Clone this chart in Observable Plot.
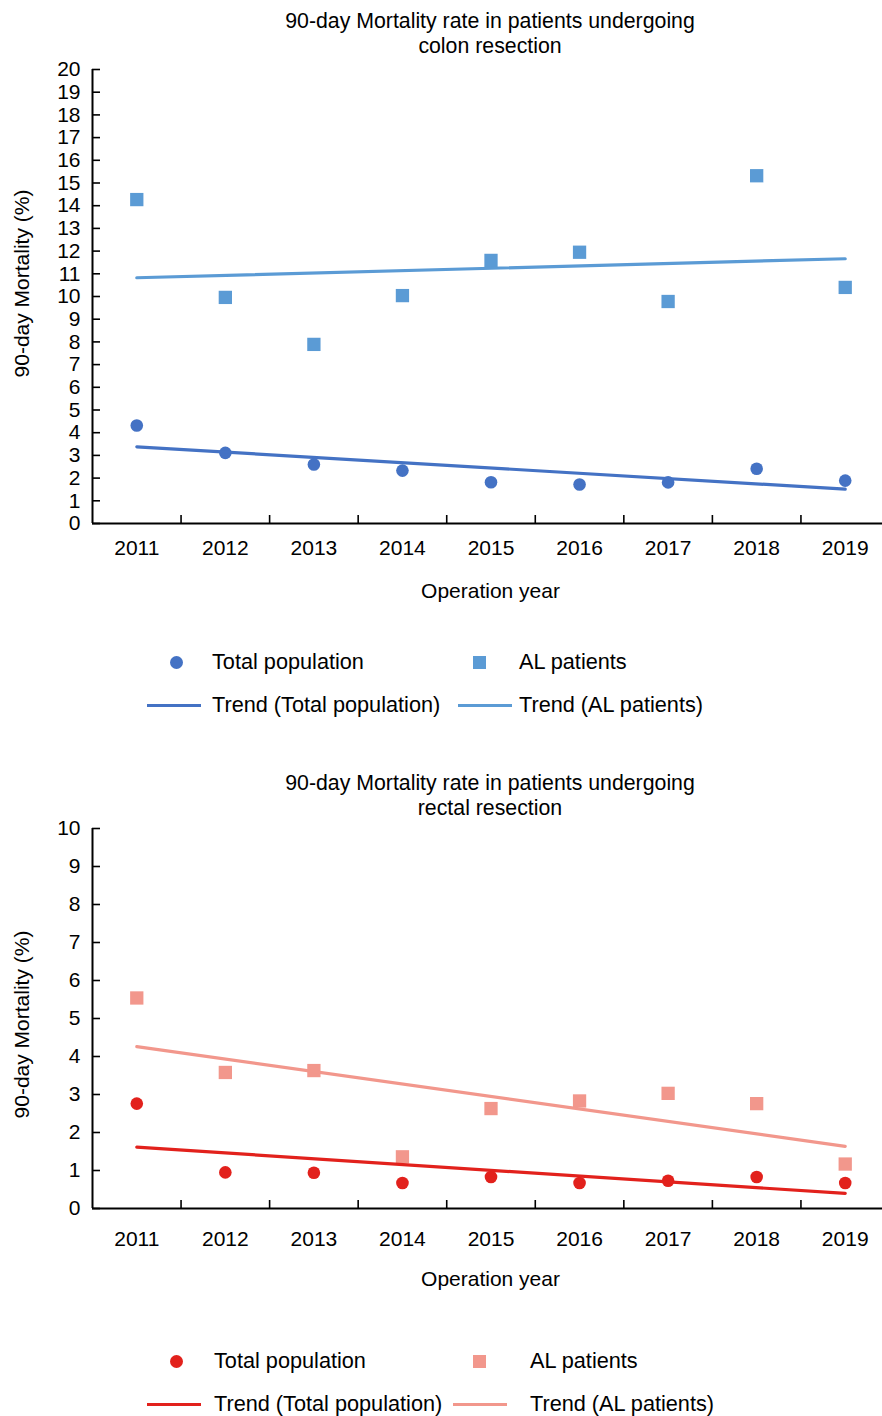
<!DOCTYPE html>
<html>
<head>
<meta charset="utf-8">
<script src="https://cdn.jsdelivr.net/npm/d3@7"></script>
<script src="https://cdn.jsdelivr.net/npm/@observablehq/plot@0.6"></script>
<style>
  body { margin: 0; background: #fff; font-family: "Liberation Sans", Arial, Helvetica, sans-serif; color: #000; }
  #page { position: relative; width: 882px; height: 1416px; overflow: hidden; background: #fff; }
  .title { position: absolute; left: 140px; width: 700px; text-align: center; font-size: 21.3px; line-height: 25px; }
  .chart { position: absolute; left: 0; }
  .lg { position: absolute; font-size: 21.7px; line-height: 24px; white-space: nowrap; }
  .sw { position: absolute; }
</style>
</head>
<body>
<div id="page"></div>
<script>
// ---------- data ----------
const years = [2011, 2012, 2013, 2014, 2015, 2016, 2017, 2018, 2019];

const colonTotal = [4.32, 3.11, 2.60, 2.33, 1.82, 1.72, 1.81, 2.41, 1.89];
const colonAL    = [14.27, 9.96, 7.89, 10.04, 11.59, 11.95, 9.78, 15.32, 10.40];

const rectalTotal = [2.76, 0.95, 0.94, 0.67, 0.83, 0.67, 0.73, 0.83, 0.67];
const rectalAL    = [5.54, 3.58, 3.63, 1.36, 2.63, 2.83, 3.03, 2.76, 1.17];

const colonYTicks  = [0, 1, 2, 3, 4, 5, 6, 7, 8, 9, 10, 11, 12, 13, 14, 15, 16, 17, 18, 19, 20];
const rectalYTicks = [0, 1, 2, 3, 4, 5, 6, 7, 8, 9, 10];

const colonTitle  = ["90-day Mortality rate in patients undergoing", "colon resection"];
const rectalTitle = ["90-day Mortality rate in patients undergoing", "rectal resection"];
const yLabel = "90-day Mortality (%)";
const xLabel = "Operation year";
const seriesNames = ["Total population", "AL patients", "Trend (Total population)", "Trend (AL patients)"];

// ---------- helpers ----------
const FONT = '"Liberation Sans", Arial, Helvetica, sans-serif';
const xDomain = [years[0] - 0.5, years[years.length - 1] + 0.5];
const bounds = years.slice(1).map(y => y - 0.5);
const page = document.getElementById("page");

function addTitle(lines, top) {
  const d = document.createElement("div");
  d.className = "title";
  d.style.top = top + "px";
  d.innerHTML = lines.join("<br>");
  page.appendChild(d);
}

function panel({total, al, yMax, yTicks, height, top, cTotal, cAL, yLabelDy, xTickPad, xLabelDy}) {
  const rows = years.map((year, i) => ({year, total: total[i], al: al[i]}));
  const chart = Plot.plot({
    width: 882,
    height,
    marginTop: 14,
    marginBottom: 87,
    marginLeft: 92,
    marginRight: 0,
    style: {fontFamily: FONT, fontSize: "21px", color: "#000", background: "transparent", overflow: "visible"},
    x: {domain: xDomain, range: [92, 889]},
    y: {domain: [0, yMax]},
    marks: [
      Plot.ruleY([0], {strokeWidth: 2, stroke: "#000"}),
      Plot.ruleX([xDomain[0]], {strokeWidth: 2, stroke: "#000"}),
      Plot.axisY(yTicks, {tickSize: -8, strokeWidth: 1.6, tickFormat: () => "", label: null}),
      Plot.axisY(yTicks, {tickSize: 0, tickPadding: 12, label: null, fontSize: 21}),
      Plot.axisX(bounds, {tickSize: -8, strokeWidth: 1.6, tickFormat: () => "", label: null}),
      Plot.axisX(years, {tickSize: 0, tickPadding: xTickPad, tickFormat: d => String(d), label: null, fontSize: 21}),
      Plot.text([xLabel], {frameAnchor: "bottom", dx: 3, dy: xLabelDy, fontSize: 21, lineAnchor: "middle"}),
      Plot.text([yLabel], {frameAnchor: "left", textAnchor: "middle", rotate: -90, dx: -70, dy: yLabelDy, fontSize: 21}),
      Plot.dot(rows, {x: "year", y: "al", symbol: "square", r: 7.5, fill: cAL}),
      Plot.dot(rows, {x: "year", y: "total", r: 6.3, fill: cTotal}),
      Plot.linearRegressionY(rows, {x: "year", y: "al", stroke: cAL, strokeWidth: 3.2, ci: 0}),
      Plot.linearRegressionY(rows, {x: "year", y: "total", stroke: cTotal, strokeWidth: 3.2, ci: 0})
    ]
  });
  chart.classList.add("chart");
  chart.style.top = top + "px";
  page.appendChild(chart);
}

function legend({top, cTotal, cAL, textX1, textX2, lineX2}) {
  const row1 = top, row2 = top + 43;
  const items = [
    {kind: "circle", color: cTotal, sx: 176, y: row1, tx: textX1, label: seriesNames[0]},
    {kind: "square", color: cAL, sx: 479, y: row1, tx: textX2, label: seriesNames[1]},
    {kind: "line", color: cTotal, sx: 147, y: row2, tx: textX1, label: seriesNames[2]},
    {kind: "line", color: cAL, sx: lineX2, y: row2, tx: textX2, label: seriesNames[3]}
  ];
  for (const it of items) {
    const s = document.createElement("div");
    s.className = "sw";
    s.style.background = it.color;
    if (it.kind === "circle") {
      Object.assign(s.style, {left: (it.sx - 6.5) + "px", top: (it.y - 6.5) + "px", width: "13px", height: "13px", borderRadius: "50%"});
    } else if (it.kind === "square") {
      Object.assign(s.style, {left: (it.sx - 6.5) + "px", top: (it.y - 6.5) + "px", width: "13px", height: "13px"});
    } else {
      Object.assign(s.style, {left: it.sx + "px", top: (it.y - 1.5) + "px", width: "54px", height: "3px"});
    }
    page.appendChild(s);
    const t = document.createElement("div");
    t.className = "lg";
    t.style.left = it.tx + "px";
    t.style.top = (it.y - 12) + "px";
    t.textContent = it.label;
    page.appendChild(t);
  }
}

// ---------- colon ----------
const blueDark = "#4472C4", blueLight = "#5B9BD5";
addTitle(colonTitle, 9);
panel({total: colonTotal, al: colonAL, yMax: 20, yTicks: colonYTicks, height: 555, top: 55,
       cTotal: blueDark, cAL: blueLight, yLabelDy: -13, xTickPad: 17, xLabelDy: 68});
legend({top: 662, cTotal: blueDark, cAL: blueLight, textX1: 212, textX2: 519, lineX2: 458});

// ---------- rectal ----------
const red = "#E2211C", salmon = "#F2978C";
addTitle(rectalTitle, 771);
panel({total: rectalTotal, al: rectalAL, yMax: 10, yTicks: rectalYTicks, height: 481, top: 814,
       cTotal: red, cAL: salmon, yLabelDy: 6, xTickPad: 23, xLabelDy: 71});
legend({top: 1361, cTotal: red, cAL: salmon, textX1: 214, textX2: 530, lineX2: 453});
</script>
</body>
</html>
